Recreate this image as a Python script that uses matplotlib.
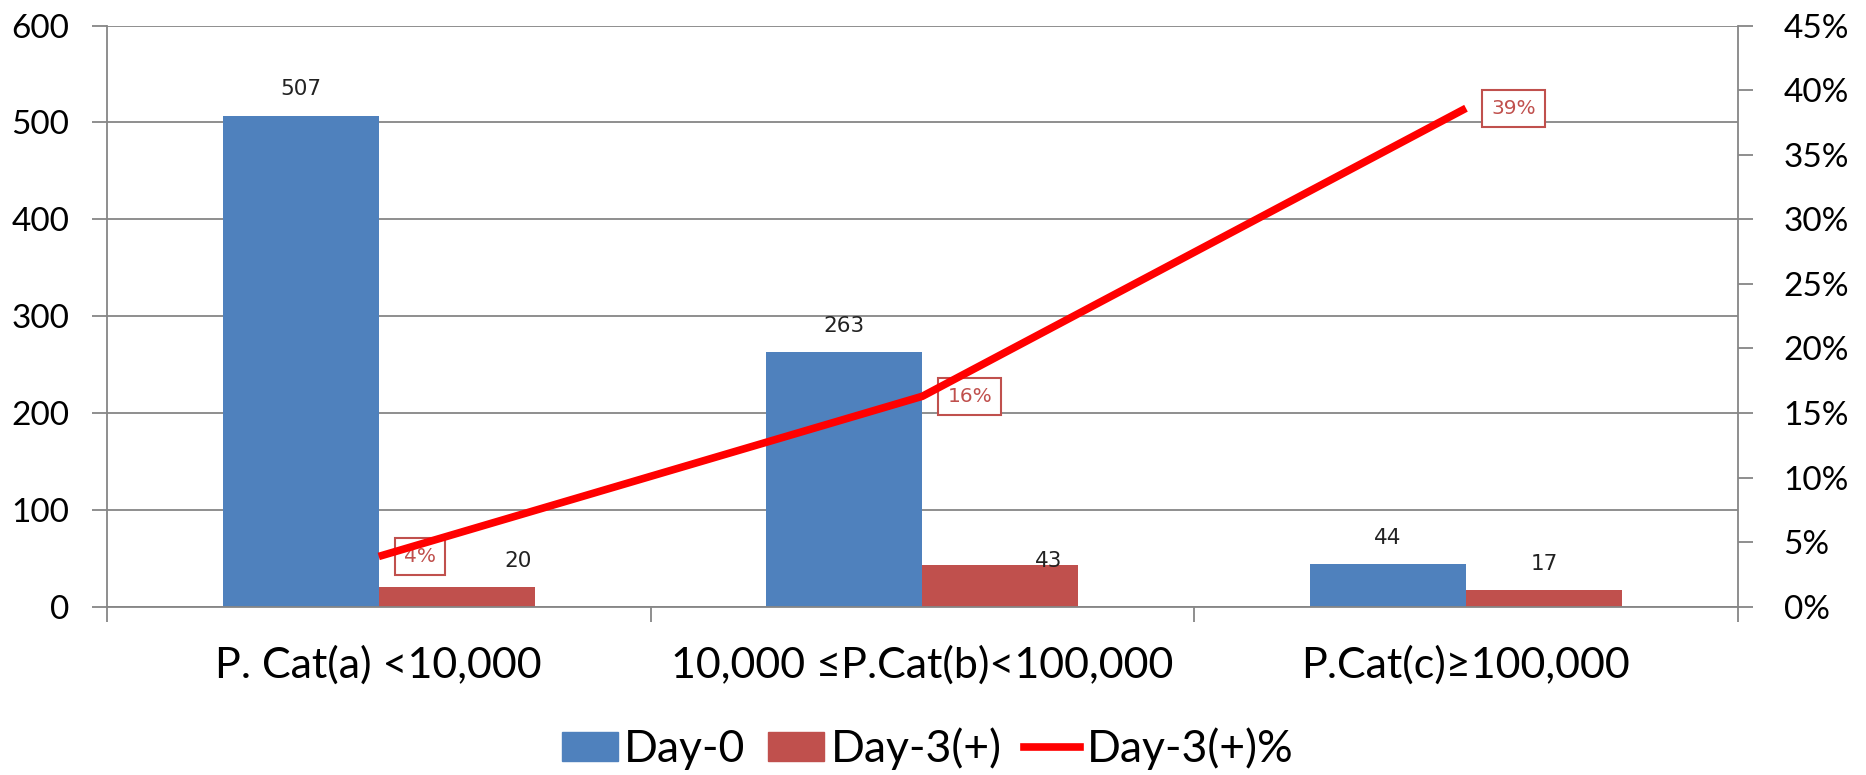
import matplotlib.pyplot as plt
from matplotlib.ticker import PercentFormatter
from matplotlib.patches import Patch
from matplotlib.lines import Line2D

plt.rcParams['font.family'] = ['Lato', 'DejaVu Sans']

# Data
categories = ['P. Cat(a) <10,000', '10,000 \u2264P.Cat(b)<100,000', 'P.Cat(c)\u2265100,000']
day0 = [507, 263, 44]
day3_pos = [20, 43, 17]
day3_pct = [3.9, 16.3, 38.6]
pct_labels = ['4%', '16%', '39%']

blue = '#4F81BD'
red_bar = '#C0504D'
red_line = '#FF0000'
grey = '#868686'

fig = plt.figure(figsize=(18.66, 7.75), dpi=100)
ax = fig.add_axes([0.0573, 0.217, 0.874, 0.75])

x = list(range(len(categories)))
w = 0.287
ax.bar([i - w / 2 for i in x], day0, width=w, color=blue, zorder=2)
ax.bar([i + w / 2 for i in x], day3_pos, width=w, color=red_bar, zorder=2)

# value labels above bars (some nudged like in the original)
red_dx = [44, 35, 0]
red_dy = [19, 3, 19]
for i in x:
    ax.annotate(str(day0[i]), (i - w / 2, day0[i]), xytext=(0, 19), textcoords='offset points',
                ha='center', va='center', fontsize=15.5, family='DejaVu Sans', color='#222222')
    ax.annotate(str(day3_pos[i]), (i + w / 2, day3_pos[i]), xytext=(red_dx[i], red_dy[i]),
                textcoords='offset points', ha='center', va='center', fontsize=15.5,
                family='DejaVu Sans', color='#222222', zorder=5)

ax.set_xlim(-0.5, 2.5)
ax.set_ylim(0, 600)
ax.set_yticks(range(0, 601, 100))
ax.yaxis.grid(True, color=grey, lw=1.3)
ax.set_axisbelow(True)
ax.set_xticks(x)
ax.set_xticklabels(categories, fontsize=31)
ax.set_xticks([-0.5, 0.5, 1.5, 2.5], minor=True)
ax.tick_params(axis='x', which='major', length=0, pad=28)
ax.tick_params(axis='x', which='minor', length=11, width=1.3, color=grey, direction='out')
ax.tick_params(axis='y', length=11, width=1.3, color=grey, labelsize=24, pad=16)
for s in ['top', 'right']:
    ax.spines[s].set_visible(False)
for s in ['left', 'bottom']:
    ax.spines[s].set_color(grey)
    ax.spines[s].set_linewidth(1.3)

ax2 = ax.twinx()
ax2.plot(x, [v / 100 for v in day3_pct], color=red_line, lw=5.5, zorder=4, solid_capstyle='butt')
for i in x:
    ax2.annotate(pct_labels[i], (i, day3_pct[i] / 100), xytext=(18, 0), textcoords='offset points',
                 ha='left', va='center', fontsize=14.5, family='DejaVu Sans', color=red_bar, zorder=2,
                 bbox=dict(boxstyle='square,pad=0.45', fc='white', ec=red_bar, lw=1.5))
ax2.set_ylim(0, 0.45)
ax2.set_yticks([i * 0.05 for i in range(10)])
ax2.yaxis.set_major_formatter(PercentFormatter(1.0, decimals=0))
ax2.tick_params(axis='y', length=11, width=1.3, color=grey, labelsize=24, pad=22)
for s in ['top', 'left', 'bottom']:
    ax2.spines[s].set_visible(False)
ax2.spines['right'].set_color(grey)
ax2.spines['right'].set_linewidth(1.3)

handles = [Patch(color=blue), Patch(color=red_bar), Line2D([], [], color=red_line, lw=5.5)]
fig.legend(handles, ['Day-0', 'Day-3(+)', 'Day-3(+)%'], loc='center', bbox_to_anchor=(0.497, 0.034),
           ncol=3, frameon=False, fontsize=32, handlelength=1.26, handleheight=0.65,
           handletextpad=0.15, columnspacing=0.5)

fig.savefig('out.png', dpi=100)
